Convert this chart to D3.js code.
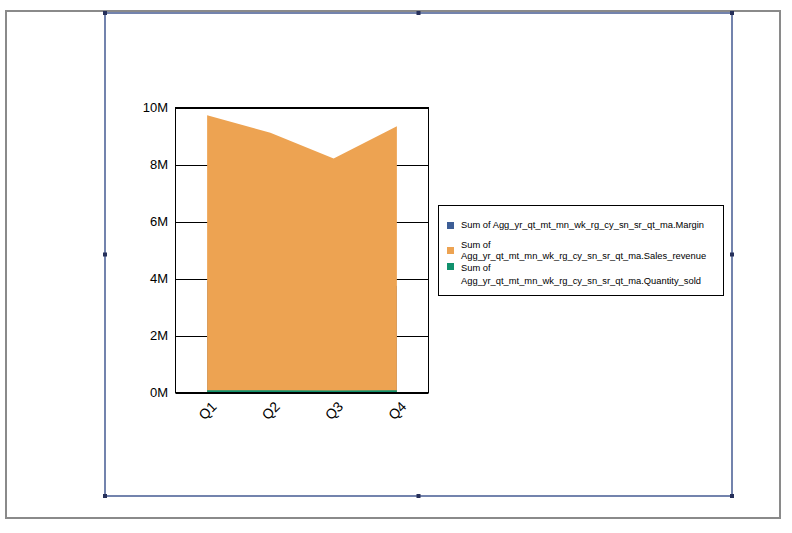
<!DOCTYPE html>
<html><head><meta charset="utf-8">
<script src="https://cdn.jsdelivr.net/npm/d3@7"></script>
<style>body{margin:0;background:#fff;}svg{display:block;font-family:"Liberation Sans",Arial,sans-serif;}</style>
</head><body>
<svg id="c" width="792" height="533"></svg>
<script>
const categories = ["Q1","Q2","Q3","Q4"];
const margin = [3900000, 3650000, 3300000, 3750000];
const salesRevenue = [9730000, 9110000, 8210000, 9340000];
const quantitySold = [82000, 78000, 70000, 76000];
const yTicks = [0, 2000000, 4000000, 6000000, 8000000, 10000000];
const seriesNames = [
  "Sum of Agg_yr_qt_mt_mn_wk_rg_cy_sn_sr_qt_ma.Margin",
  "Sum of Agg_yr_qt_mt_mn_wk_rg_cy_sn_sr_qt_ma.Sales_revenue",
  "Sum of Agg_yr_qt_mt_mn_wk_rg_cy_sn_sr_qt_ma.Quantity_sold"
];
const colors = ["#3d5e96", "#eda352", "#11916d"];

const svg = d3.select("#c");
// outer gray frame
svg.append("rect").attr("x",6).attr("y",11).attr("width",774).attr("height",507)
  .attr("fill","none").attr("stroke","#8a8a8a").attr("stroke-width",2);
// blue selection frame
const bx0=105, by0=13, bx1=732, by1=496;
svg.append("rect").attr("x",bx0).attr("y",by0).attr("width",bx1-bx0).attr("height",by1-by0)
  .attr("fill","none").attr("stroke","#7383ad").attr("stroke-width",2);
const hx=[bx0,(bx0+bx1)/2,bx1], hy=[by0,(by0+by1)/2,by1];
hx.forEach((x,i)=>hy.forEach((y,j)=>{ if(i===1&&j===1) return;
  svg.append("rect").attr("x",x-2).attr("y",y-2).attr("width",4).attr("height",4).attr("fill","#26305a");
}));

const L=175.5, R=428.5, T=107.5, B=392.5;
const x = d3.scalePoint().domain(categories).range([L,R]).padding(0.5);
const y = d3.scaleLinear().domain([0,10000000]).range([B,T]);

// gridlines
svg.append("g").selectAll("line").data(yTicks).join("line")
  .attr("x1",L).attr("x2",R).attr("y1",d=>Math.round(y(d))+0.5).attr("y2",d=>Math.round(y(d))+0.5)
  .attr("stroke","#000").attr("stroke-width",1);

const series = [margin, salesRevenue, quantitySold];
const area = d3.area().x((d,i)=>x(categories[i])).y0(y(0)).y1(d=>y(d));
series.forEach((s,k)=>{
  svg.append("path").datum(s).attr("d",area).attr("fill",colors[k]);
});

// plot frame
svg.append("rect").attr("x",L).attr("y",T).attr("width",R-L).attr("height",B-T)
  .attr("fill","none").attr("stroke","#000").attr("stroke-width",1);

// y axis labels
svg.append("g").selectAll("text").data(yTicks).join("text")
  .attr("x",168).attr("y",d=>y(d)+4.7).attr("text-anchor","end")
  .attr("font-size",13).attr("fill","#000").text(d=>(d/1000000)+"M");

// x axis labels
svg.append("g").selectAll("text").data(categories).join("text")
  .attr("transform",d=>`translate(${x(d)+10.5},${407.5}) rotate(-45)`)
  .attr("text-anchor","end").attr("font-size",14).attr("fill","#000").text(d=>d);

// legend
svg.append("rect").attr("x",438.5).attr("y",205.5).attr("width",285).attr("height",90)
  .attr("fill","#fff").attr("stroke","#000").attr("stroke-width",1);
const sw = [222, 247, 263];
const lines = [
  [[seriesNames[0], 227.5]],
  [["Sum of", 247.5], [seriesNames[1].replace("Sum of ",""), 259]],
  [["Sum of", 271], [seriesNames[2].replace("Sum of ",""), 283.5]]
];
const lg = svg.append("g");
lines.forEach((ls,k)=>{
  lg.append("rect").attr("x",447).attr("y",sw[k]).attr("width",7).attr("height",7).attr("fill",colors[k]);
  ls.forEach(([t,yy])=>{
    lg.append("text").attr("x",461).attr("y",yy).attr("font-size",9.35).attr("fill","#000").text(t);
  });
});
</script>
</body></html>
